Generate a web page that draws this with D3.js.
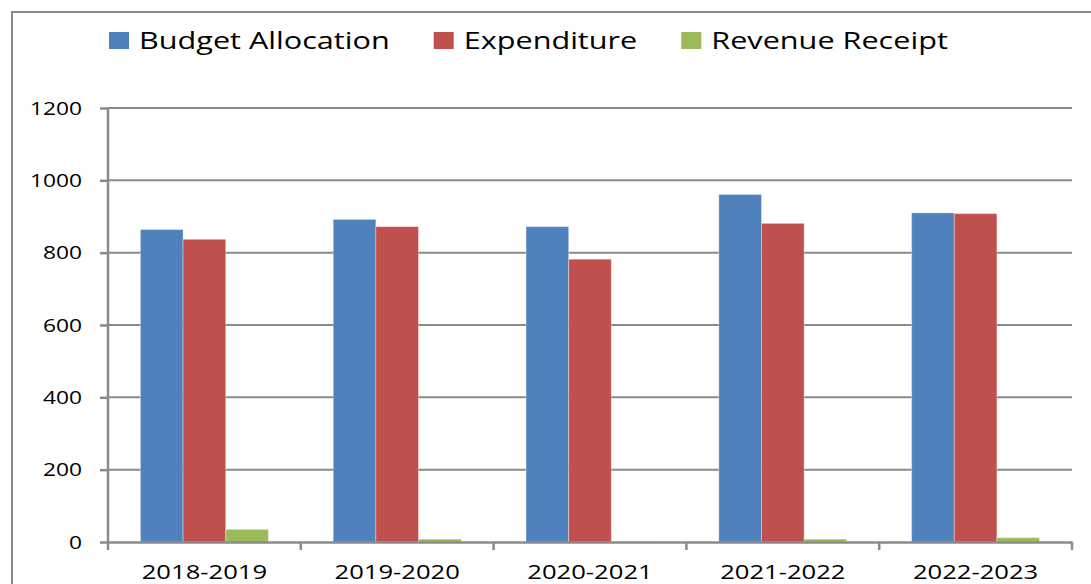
<!DOCTYPE html>
<html>
    <head>
        <meta charset="utf-8">
        <style>
            html, body {
                margin: 0px;
                padding: 0px;
                background-color: #ffffff;
            }
            svg {
                display: block;
                font-family: "Open Sans", sans-serif;
            }
            .grid line {
                stroke: #8a8a8a;
                stroke-width: 2;
            }
            .axis path, .axis line {
                stroke: #8a8a8a;
                stroke-width: 2.5;
            }
        </style>
        <script src="https://cdn.jsdelivr.net/npm/d3@7"></script>
    </head>
    <body>
        <div id="main"></div>
        <script>
            var categories = ["2018-2019", "2019-2020", "2020-2021", "2021-2022", "2022-2023"];
            var seriesNames = ["Budget Allocation", "Expenditure", "Revenue Receipt"];
            var budget = [864, 892, 872, 961, 910];
            var expenditure = [837, 872, 782, 881, 908];
            var revenue = [35, 8, 1, 8, 12];
            var yTicks = [0, 200, 400, 600, 800, 1000, 1200];
            var colors = ["#4f81bd", "#c0504d", "#9bbb59"];

            var width = 1091;
            var height = 584;
            var stretch = 1.28;   // source text looks widened horizontally
            var legendStretch = 1.32;
            var margin = {left: 108, right: 19, top: 108, bottom: 42};

            var svg = d3.select("#main").append("svg")
                .attr("width", width)
                .attr("height", height);

            // outer chart border (cut off on the right and bottom)
            svg.append("path")
                .attr("d", "M12," + (height + 5) + "V12H" + (width + 5))
                .attr("fill", "none")
                .attr("stroke", "#8a8a8a")
                .attr("stroke-width", 2);

            var x0 = d3.scaleBand()
                .domain(categories)
                .range([margin.left, width - margin.right]);

            var x1 = d3.scaleBand()
                .domain(seriesNames)
                .range([0, x0.bandwidth()])
                .paddingOuter(0.76);

            var y = d3.scaleLinear()
                .domain([0, 1200])
                .range([height - margin.bottom, margin.top]);

            // gridlines
            svg.append("g")
                .attr("class", "grid")
                .selectAll("line")
                .data(yTicks.slice(1))
                .enter().append("line")
                .attr("x1", margin.left)
                .attr("x2", width - margin.right)
                .attr("y1", function(d) { return y(d); })
                .attr("y2", function(d) { return y(d); });

            var rows = categories.map(function(c, i) {
                return {cat: c, values: [budget[i], expenditure[i], revenue[i]]};
            });

            svg.append("g")
                .selectAll("g")
                .data(rows)
                .enter().append("g")
                .attr("transform", function(d) { return "translate(" + x0(d.cat) + ",0)"; })
                .selectAll("rect")
                .data(function(d) { return d.values.map(function(v, j) { return {name: seriesNames[j], value: v, j: j}; }); })
                .enter().append("rect")
                .attr("x", function(d) { return x1(d.name); })
                .attr("width", x1.bandwidth())
                .attr("y", function(d) { return y(d.value); })
                .attr("height", function(d) { return y(0) - y(d.value); })
                .attr("fill", function(d) { return colors[d.j]; })
                .attr("stroke", "rgba(255,255,255,0.35)")
                .attr("stroke-width", 1);

            // y axis
            var yAxis = svg.append("g")
                .attr("class", "axis")
                .attr("transform", "translate(" + margin.left + ",0)")
                .call(d3.axisLeft(y).tickValues(yTicks).tickSize(8).tickSizeOuter(0).tickFormat(""));
            yAxis.select(".domain").attr("d", "M0," + y(1200) + "V" + (y(0) + 8));

            // x axis
            var xAxis = svg.append("g")
                .attr("class", "axis")
                .attr("transform", "translate(0," + y(0) + ")")
                .call(d3.axisBottom(x0).tickSize(0).tickSizeOuter(0).tickFormat(""));
            xAxis.selectAll(".tick").remove();
            xAxis.selectAll(".sep")
                .data(categories)
                .enter().append("line")
                .attr("class", "sep")
                .attr("x1", function(d) { return x0(d) + x0.bandwidth(); })
                .attr("x2", function(d) { return x0(d) + x0.bandwidth(); })
                .attr("y1", 0)
                .attr("y2", 8);

            // y labels
            svg.append("g")
                .selectAll("text")
                .data(yTicks)
                .enter().append("text")
                .attr("transform", function(d) { return "translate(82," + (y(d) + 6.5) + ") scale(" + stretch + ",1)"; })
                .attr("text-anchor", "end")
                .attr("font-size", 17.8)
                .attr("fill", "#000")
                .text(function(d) { return d; });

            // x labels
            svg.append("g")
                .selectAll("text")
                .data(categories)
                .enter().append("text")
                .attr("transform", function(d) { return "translate(" + (x0(d) + x0.bandwidth() / 2) + ",579) scale(" + stretch + ",1)"; })
                .attr("text-anchor", "middle")
                .attr("font-size", 20)
                .attr("fill", "#000")
                .text(function(d) { return d; });

            // legend
            var legend = svg.append("g");
            var lx = 109;
            seriesNames.forEach(function(name, i) {
                legend.append("rect")
                    .attr("x", lx)
                    .attr("y", 32)
                    .attr("width", 20)
                    .attr("height", 17)
                    .attr("fill", colors[i]);
                var t = legend.append("text")
                    .attr("transform", "translate(" + (lx + 30) + ",48.5) scale(" + legendStretch + ",1)")
                    .attr("font-size", 23.2)
                    .attr("fill", "#000")
                    .text(name);
                lx += 30 + t.node().getComputedTextLength() * legendStretch + 44;
            });
        </script>
    </body>
</html>
